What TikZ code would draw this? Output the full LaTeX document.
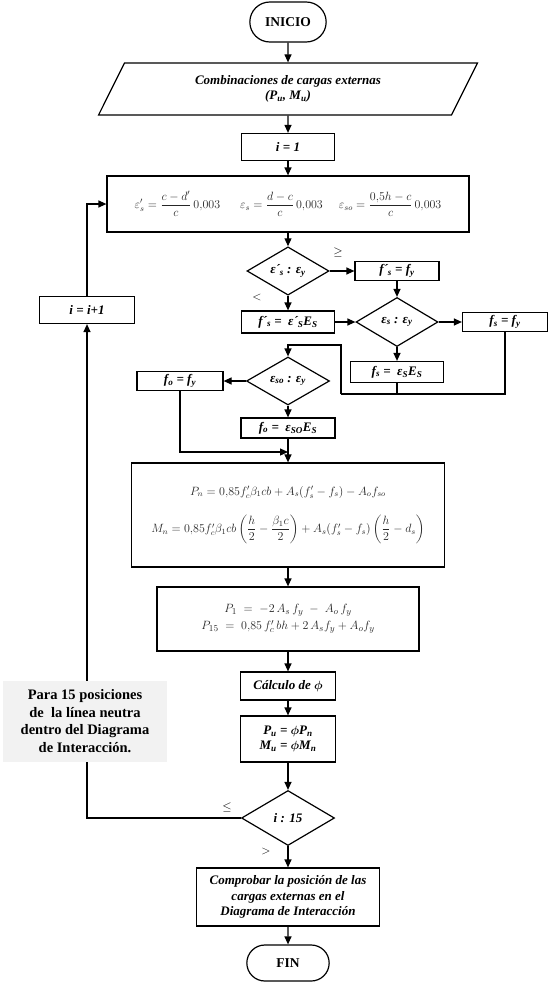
\documentclass[tikz,border=0pt]{standalone}
\usepackage{amsmath,amssymb}
\usepackage{fontspec}
\setmainfont{Liberation Serif}
\usepackage{tikz}
\usetikzlibrary{arrows.meta,shapes.geometric,shapes.misc}
\definecolor{notegray}{HTML}{F2F2F2}
\definecolor{formulagray}{HTML}{262626}

\begin{document}
\begin{tikzpicture}[x=1pt,y=1pt,
  every node/.style={font=\fontsize{13}{15.5}\selectfont\bfseries\itshape},
  term/.style={draw,rounded rectangle,line width=1.2pt,font=\fontsize{13.5}{15}\selectfont\bfseries},
  io/.style={draw,trapezium,trapezium left angle=63,trapezium right angle=117,trapezium stretches=true,line width=1.2pt,align=center,minimum width=380,minimum height=52,inner sep=1pt},
  proc/.style={draw,line width=1.2pt,align=center,inner sep=2pt},
  formula/.style={proc,text=formulagray,font=\fontsize{12}{14}\selectfont},
  dec/.style={draw,diamond,line width=1.2pt,inner sep=0pt},
  lbl/.style={font=\fontsize{13}{15}\selectfont},
  note/.style={fill=notegray,align=center,minimum width=164,minimum height=81,inner sep=1pt,font=\fontsize{14.5}{17.5}\selectfont\bfseries},
  line/.style={line width=1.2pt},
  arr/.style={-{Triangle[length=8pt,width=7pt]},line width=1.2pt}
]
\useasboundingbox (0,0) rectangle (550,-982);
\node[term,minimum width=83,minimum height=40] (ini) at (288,-22) {INICIO};
\node[io] (comb) at (288,-89) {Combinaciones de cargas externas\\(P\textsubscript{u}, M\textsubscript{u})};
\node[proc,minimum width=93,minimum height=27] (i1) at (288,-147) {i = 1};
\node[formula,minimum width=362,minimum height=56] (eps) at (288,-204)
  {$\varepsilon_s'=\dfrac{c-d'}{c}\,0{,}003$\hspace{20pt}$\varepsilon_s=\dfrac{d-c}{c}\,0{,}003$\hspace{16pt}$\varepsilon_{so}=\dfrac{0{,}5h-c}{c}\,0{,}003$};
\node[dec,minimum width=82,minimum height=48] (d1) at (288,-271) {ε´\textsubscript{s} : ε\textsubscript{y}};
\node[proc,minimum width=84,minimum height=19] (fsy) at (397,-271) {f´\textsubscript{s} = f\textsubscript{y}};
\node[proc,minimum width=93,minimum height=22] (fse) at (288,-322) {f´\textsubscript{s} = \ ε´\textsubscript{S}E\textsubscript{S}};
\node[dec,minimum width=82,minimum height=49] (d2) at (397,-322) {ε\textsubscript{s} : ε\textsubscript{y}};
\node[proc,minimum width=85,minimum height=19] (fsfy) at (505,-322) {f\textsubscript{s} = f\textsubscript{y}};
\node[proc,minimum width=93,minimum height=21] (fsfe) at (397,-372) {f\textsubscript{s} = \ ε\textsubscript{S}E\textsubscript{S}};
\node[dec,minimum width=83,minimum height=48] (d3) at (288,-381) {ε\textsubscript{so} : ε\textsubscript{y}};
\node[proc,minimum width=86,minimum height=19] (fofy) at (180,-381) {f\textsubscript{o} = f\textsubscript{y}};
\node[proc,minimum width=94,minimum height=20] (foe) at (288,-428) {f\textsubscript{o} = \ ε\textsubscript{SO}E\textsubscript{S}};
\node[formula,minimum width=313,minimum height=104] (pn) at (288,-515)
  {$P_n=0{,}85f_c'\beta_1cb+A_s(f_s'-f_s)-A_of_{so}$\\[16pt]
   $M_n=0{,}85f_c'\beta_1cb\left(\dfrac{h}{2}-\dfrac{\beta_1c}{2}\right)+A_s(f_s'-f_s)\left(\dfrac{h}{2}-d_s\right)$};
\node[formula,minimum width=262,minimum height=64,font=\fontsize{13}{15}\selectfont] (p1) at (288,-619)
  {$P_1\;=\;-2\,A_s\,f_y\;-\;A_o\,f_y$\\[2pt]
   $P_{15}\;=\;0{,}85\,f_c'\,bh+2\,A_sf_y+A_of_y$};
\node[proc,minimum width=95,minimum height=28] (phi) at (288,-686) {Cálculo de $\boldsymbol{\phi}$};
\node[proc,minimum width=95,minimum height=46] (pu) at (288,-739) {P\textsubscript{u} = $\boldsymbol{\phi}$P\textsubscript{n}\\M\textsubscript{u} = $\boldsymbol{\phi}$M\textsubscript{n}};
\node[dec,minimum width=93,minimum height=55] (d4) at (288,-818) {i : 15};
\node[proc,minimum width=95,minimum height=27] (inc) at (87,-310) {i = i+1};
\node[proc,minimum width=183,minimum height=58,inner sep=1pt] (comp) at (288,-897) {Comprobar la posición de las\\cargas externas en el\\Diagrama de Interacción};
\node[term,minimum width=89,minimum height=36] (fin) at (288,-963) {FIN};

\node[lbl] (ge) at (338,-252) {$\geq$};
\node[lbl] (lt) at (257,-297) {$<$};
\node[lbl] (le) at (227,-807) {$\leq$};
\node[lbl] (gt) at (266,-851) {$>$};

\coordinate (j1) at (341,-394);
\coordinate (j2) at (288,-345);
\coordinate (j3) at (288,-452);

\draw[arr] (ini) -- (comb);
\draw[arr] (comb) -- (i1);
\draw[arr] (i1) -- (eps);
\draw[arr] (eps) -- (d1);
\draw[arr] (d1) -- (fsy);
\draw[arr] (d1) -- (fse);
\draw[arr] (fsy) -- (d2);
\draw[arr] (fse) -- (d2);
\draw[arr] (d2) -- (fsfy);
\draw[arr] (d2) -- (fsfe);
\draw[line] (fsfy.south) |- (j1);
\draw[line] (fsfe.south) -- (fsfe.south |- j1);
\draw[arr] (j1) |- (j2) -- (d3.north);
\draw[arr] (d3) -- (fofy);
\draw[arr] (d3) -- (foe);
\draw[arr] (fofy.south) |- (j3);
\draw[arr] (foe) -- (pn);
\draw[arr] (pn) -- (p1);
\draw[arr] (p1) -- (phi);
\draw[arr] (phi) -- (pu);
\draw[arr] (pu) -- (d4);
\draw[arr] (d4) -- (comp);
\draw[arr] (comp) -- (fin);
\draw[arr] (d4.west) -| (inc.south);
\draw[arr] (inc.north) |- (eps.west);

\node[note] (para) at (85,-721) {Para 15 posiciones\\de\ \ la línea neutra\\dentro del Diagrama\\de Interacción.};
\end{tikzpicture}
\end{document}
